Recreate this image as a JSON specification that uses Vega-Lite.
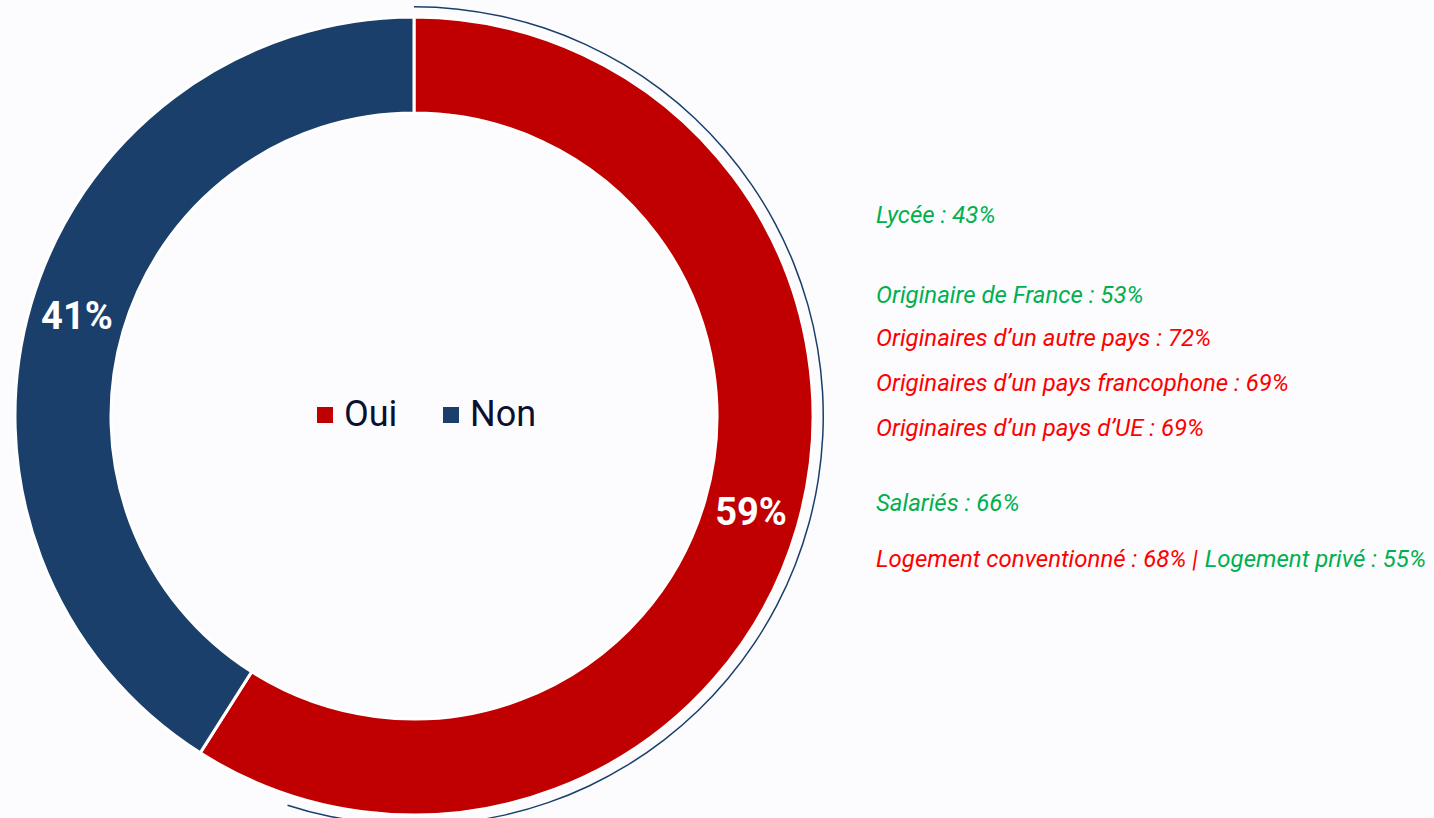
{
  "$schema": "https://vega.github.io/schema/vega-lite/v6.json",
  "background": "#fcfcfe",
  "padding": {"left": 0, "top": 6, "right": 0, "bottom": 0},
  "config": {"view": {"stroke": null}, "font": "Roboto"},
  "spacing": 48,
  "resolve": {"scale": {"color": "independent"}, "legend": {"color": "independent"}},
  "hconcat": [
    {
      "width": 828,
      "height": 812,
      "layer": [
        {
          "data": {"values": [
            {"reponse": "Oui", "pct": 59, "ordre": 1, "etiquette": "59%"},
            {"reponse": "Non", "pct": 41, "ordre": 2, "etiquette": "41%"}
          ]},
          "mark": {"type": "arc", "outerRadius": 399, "innerRadius": 303, "stroke": "white", "strokeWidth": 3},
          "encoding": {
            "theta": {"field": "pct", "type": "quantitative", "stack": true, "scale": {"domain": [0, 100]}},
            "order": {"field": "ordre", "type": "quantitative"},
            "color": {
              "field": "reponse", "type": "nominal",
              "scale": {"domain": ["Oui", "Non"], "range": ["#C00000", "#1A3F6B"]},
              "legend": {
                "orient": "none", "legendX": 307, "legendY": 387, "direction": "horizontal",
                "title": null, "symbolType": "square", "symbolSize": 256, "symbolStrokeWidth": 0,
                "labelFontSize": 36, "labelColor": "#0b1030", "labelOffset": 1, "columnPadding": 35,
                "padding": 0
              }
            }
          }
        },
        {
          "data": {"values": [
            {"reponse": "Oui", "pct": 59, "ordre": 1, "etiquette": "59%"},
            {"reponse": "Non", "pct": 41, "ordre": 2, "etiquette": "41%"}
          ]},
          "mark": {"type": "text", "radius": 351, "fill": "white", "fontSize": 38, "fontWeight": "bold", "align": "center", "baseline": "middle"},
          "encoding": {
            "theta": {"field": "pct", "type": "quantitative", "stack": true},
            "order": {"field": "ordre", "type": "quantitative"},
            "text": {"field": "etiquette"}
          }
        },
        {
          "data": {"values": [{"debut": 0, "fin": 55}]},
          "mark": {"type": "arc", "outerRadius": 410, "innerRadius": 408.5, "fill": "#1A3F6B"},
          "encoding": {
            "theta": {"field": "debut", "type": "quantitative", "stack": null},
            "theta2": {"field": "fin"}
          }
        }
      ]
    },
    {
      "width": 558,
      "height": 812,
      "data": {"values": [
        {"texte": "Lycée : 43%", "ligne": 1, "signal": "vert", "bord": 0},
        {"texte": "Originaire de France : 53%", "ligne": 2.79, "signal": "vert", "bord": 0},
        {"texte": "Originaires d’un autre pays : 72%", "ligne": 3.75, "signal": "rouge", "bord": 0},
        {"texte": "Originaires d’un pays francophone : 69%", "ligne": 4.76, "signal": "rouge", "bord": 0},
        {"texte": "Originaires d’un pays d’UE : 69%", "ligne": 5.77, "signal": "rouge", "bord": 0},
        {"texte": "Salariés : 66%", "ligne": 7.45, "signal": "vert", "bord": 0},
        {"texte": "Logement conventionné : 68% | ", "ligne": 8.7, "signal": "rouge", "bord": 0},
        {"texte": "Logement privé : 55%", "ligne": 8.7, "signal": "vert", "bord": 1}
      ]},
      "encoding": {
        "x": {"field": "bord", "type": "quantitative", "scale": {"domain": [0, 1], "range": [0, 550]}, "axis": null},
        "y": {"field": "ligne", "type": "quantitative", "scale": {"domain": [-3.615, 14.565], "reverse": true, "nice": false, "zero": false}, "axis": null},
        "color": {"field": "signal", "type": "nominal", "scale": {"domain": ["vert", "rouge"], "range": ["#00B050", "#FF0000"]}, "legend": null},
        "text": {"field": "texte"}
      },
      "layer": [
        {
          "transform": [{"filter": "datum.bord == 0"}],
          "mark": {"type": "text", "align": "left", "baseline": "middle", "fontSize": 24, "fontStyle": "italic"}
        },
        {
          "transform": [{"filter": "datum.bord == 1"}],
          "mark": {"type": "text", "align": "right", "baseline": "middle", "fontSize": 24, "fontStyle": "italic"}
        }
      ]
    }
  ]
}
